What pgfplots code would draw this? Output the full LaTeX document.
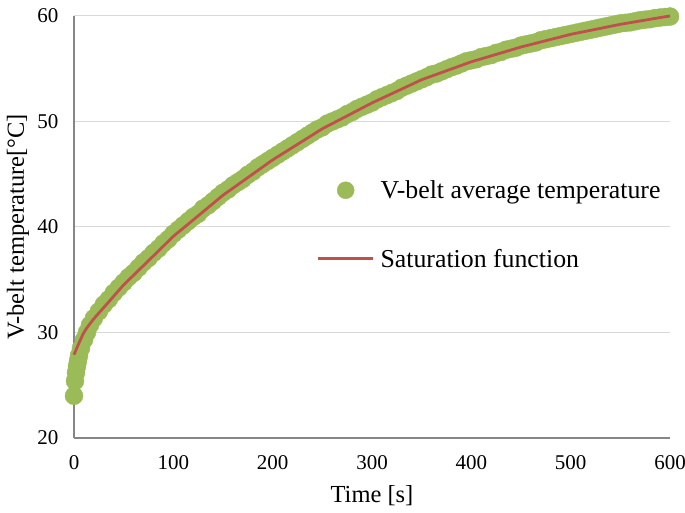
\documentclass[border=0pt]{standalone}
\usepackage{pgfplots}
\pgfplotsset{compat=1.18}
\usepackage{pgfplotstable}
\usepackage{fontspec}
\setmainfont{Liberation Serif}
\definecolor{vgreen}{HTML}{9BBB59}
\definecolor{vred}{HTML}{C0504D}
\definecolor{axgray}{HTML}{868686}
\definecolor{gridgray}{HTML}{D9D9D9}

\pgfplotstableread{
t T
0 24.0
1 25.4
2 26.2
3 26.8
4 27.3
5 27.8
7 28.5
10 29.3
13 30.0
16 30.7
20 31.35
25 32.0
30 32.65
35 33.15
40 33.75
45 34.25
50 34.75
55 35.25
60 35.65
65 36.15
70 36.65
75 37.05
80 37.55
85 37.95
90 38.45
95 38.85
100 39.35
105 39.75
110 40.15
115 40.55
120 40.95
125 41.25
130 41.75
135 42.05
140 42.45
145 42.85
150 43.25
155 43.55
160 43.95
165 44.25
170 44.55
175 44.95
180 45.25
185 45.65
190 45.95
195 46.25
200 46.55
205 46.85
210 47.15
215 47.45
220 47.75
225 48.05
230 48.35
235 48.65
240 48.95
245 49.25
250 49.45
255 49.8
260 50.0
265 50.2
270 50.4
275 50.7
280 50.9
285 51.2
290 51.4
295 51.6
300 51.8
305 52.1
310 52.3
315 52.5
320 52.7
325 52.9
330 53.2
335 53.4
340 53.6
345 53.8
350 54.0
355 54.2
360 54.45
365 54.55
370 54.75
375 54.95
380 55.15
385 55.3
390 55.5
395 55.7
400 55.8
405 55.9
410 56.1
415 56.2
420 56.3
425 56.5
430 56.6
435 56.8
440 56.9
445 57.0
450 57.2
455 57.3
460 57.4
465 57.5
470 57.7
475 57.8
480 57.9
485 58.0
490 58.1
495 58.2
500 58.3
505 58.4
510 58.5
515 58.6
520 58.7
525 58.8
530 58.9
535 59.0
540 59.1
545 59.2
550 59.3
555 59.35
560 59.4
565 59.5
570 59.6
575 59.65
580 59.7
585 59.8
590 59.85
595 59.9
600 59.95
}\measured

\pgfplotstableread{
t T
0 27.90
10 30.00
20 31.30
30 32.37
40 33.44
50 34.51
60 35.43
70 36.35
80 37.27
90 38.19
100 39.11
110 39.89
120 40.67
130 41.45
140 42.23
150 43.01
160 43.68
170 44.35
180 45.02
190 45.69
200 46.36
210 46.95
220 47.54
230 48.13
240 48.72
250 49.31
260 49.80
270 50.29
280 50.78
290 51.27
300 51.76
310 52.20
320 52.64
330 53.08
340 53.52
350 53.96
360 54.30
370 54.64
380 54.98
390 55.32
400 55.66
410 55.94
420 56.22
430 56.50
440 56.78
450 57.06
460 57.30
470 57.54
480 57.78
490 58.02
500 58.26
510 58.45
520 58.64
530 58.83
540 59.02
550 59.21
560 59.37
570 59.53
580 59.69
590 59.85
600 60.00
}\fitted

\begin{document}
\begin{tikzpicture}[x=1pt,y=1pt]
\useasboundingbox (0,0) rectangle (685,513);
\begin{axis}[
  at={(74pt,75pt)}, anchor=south west,
  scale only axis, width=596pt, height=422pt,
  xmin=0, xmax=600, ymin=20, ymax=60,
  xtick={0,100,...,600}, ytick={20,30,...,60},
  axis x line=bottom, axis y line=left,
  axis line style={axgray, line width=1.5pt, -},
  ymajorgrids, grid style={gridgray, line width=1pt},
  major tick length=0pt,
  /pgf/number format/assume math mode=true,
  tick label style={font=\fontsize{21}{24}\selectfont, text=black},
  xticklabel style={yshift=-14pt},
  yticklabel style={xshift=-12pt},
  xlabel={Time [s]},
  ylabel={V-belt temperature[\textdegree C]},
  label style={font=\fontsize{24.5}{28}\selectfont},
  xlabel style={at={(rel axis cs:0.5,-0.136)}, anchor=center},
  ylabel style={at={(rel axis cs:-0.094,0.5)}, anchor=center},
  clip=false, clip mode=individual,
  legend cell align=left,
  legend style={at={(rel axis cs:0.402,0.62)}, anchor=north west, draw=none, fill=none,
    font=\fontsize{25.8}{29}\selectfont, row sep=45pt, column sep=4pt},
]
\addplot[only marks, mark=*, mark size=9pt, color=vgreen, mark options={draw=vgreen, fill=vgreen},
  legend image code/.code={\path[draw=none] (0pt,0pt) -- (55pt,0pt); \fill[vgreen] (27.5pt,0pt) circle (8.5pt);}]
  table[x=t, y=T] {\measured};
\addlegendentry{V-belt average temperature}
\addplot[vred, line width=2.8pt, smooth,
  legend image code/.code={\draw[vred, line width=2.8pt] (0pt,0pt) -- (55pt,0pt);}]
  table[x=t, y=T] {\fitted};
\addlegendentry{Saturation function}
\end{axis}
\end{tikzpicture}
\end{document}
